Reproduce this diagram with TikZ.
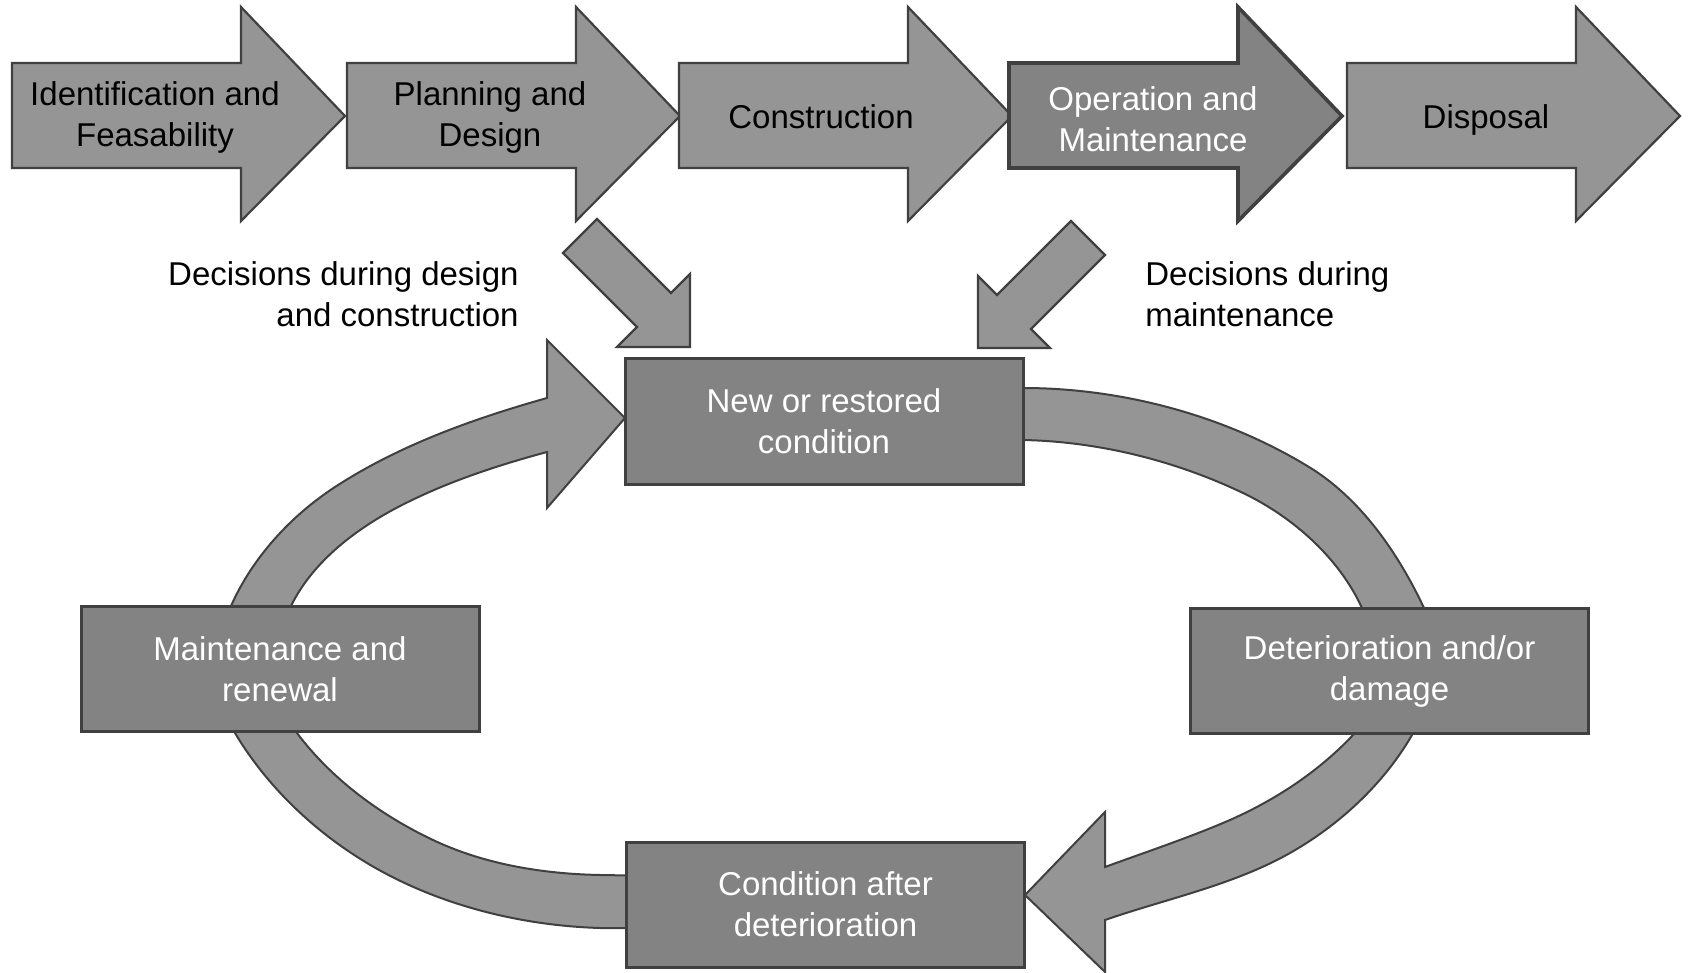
\documentclass[tikz,border=0pt]{standalone}
\usepackage{fontspec}
\setmainfont{Liberation Sans}
\definecolor{lightfill}{HTML}{959595}
\definecolor{darkfill}{HTML}{838383}
\definecolor{edgegray}{HTML}{404040}
% block arrow of one life-cycle stage, #1 = left edge, #2 = style
\newcommand{\stagearrow}[2]{%
  \draw[#2] (#1,63) -- ({#1+229},63) -- ({#1+229},7) -- ({#1+333},116)
    -- ({#1+229},221) -- ({#1+229},168) -- (#1,168) -- cycle;}
\begin{document}
\begin{tikzpicture}[x=0.5pt,y=-0.5pt,
  blockarrow/.style={fill=lightfill, draw=edgegray, line width=1.1pt},
  activearrow/.style={fill=darkfill, draw=edgegray, line width=1.8pt},
  ringband/.style={fill=lightfill, draw=edgegray, line width=1pt},
  stagetext/.style={font=\fontsize{16.5}{20.5}\selectfont, align=center, inner sep=0pt},
  note/.style={font=\fontsize{16.5}{20.5}\selectfont, inner sep=0pt},
  statebox/.style={rectangle, fill=darkfill, draw=edgegray, line width=1.5pt,
    minimum width=199pt, minimum height=62.5pt, inner sep=0pt,
    text=white, font=\fontsize{16.5}{20.5}\selectfont, align=center}]

\useasboundingbox (0,0) rectangle (1693,973);

% life-cycle stages
\stagearrow{12}{blockarrow}
\node[stagetext] (s1) at (155,117) {Identification and\\Feasability};
\stagearrow{347}{blockarrow}
\node[stagetext] (s2) at (490,117) {Planning and\\Design};
\stagearrow{679}{blockarrow}
\node[stagetext] (s3) at (821,117) {Construction};
\stagearrow{1009}{activearrow}
\node[stagetext, text=white] (s4) at (1153,119) {Operation and\\Maintenance};
\stagearrow{1347}{blockarrow}
\node[stagetext] (s5) at (1486,120) {Disposal};

% decision arrows
\draw[blockarrow] (597,219) -- (671,293) -- (690,274) -- (690,347) -- (617,347)
  -- (637,327) -- (563,253) -- cycle;
\draw[blockarrow] (1071,221) -- (1105,255) -- (1031,329) -- (1050,348) -- (978,348)
  -- (978,276) -- (997,295) -- cycle;

\node[note, anchor=east, align=right] (lbl1) at (519,294) {Decisions during design\\and construction};
\node[note, anchor=west, align=left] (lbl2) at (1145,294) {Decisions during\\maintenance};

% condition cycle bands (their ends run under the state boxes)
\draw[ringband] (990,388) -- (1023,388)
  .. controls (1122,388) and (1224.6,415.4) .. (1309,467)
  .. controls (1360.8,498.7) and (1398.1,553.1) .. (1424,608)
  -- (1432,650) -- (1372,650) -- (1362,608)
  .. controls (1339,557.8) and (1292.8,516.8) .. (1243,493)
  .. controls (1175,460.5) and (1098.4,441.5) .. (1023,440)
  -- (990,440) -- cycle;
\draw[ringband] (1425,700) -- (1412,735)
  .. controls (1383.7,784) and (1339.2,825.1) .. (1290,853)
  .. controls (1232.9,885.3) and (1167,898.5) .. (1105,920)
  -- (1105,972) -- (1025,895) -- (1105,812) -- (1105,867)
  .. controls (1144.4,852.6) and (1184.3,839.3) .. (1223,823)
  .. controls (1271.2,802.7) and (1317.2,773.2) .. (1353,735)
  -- (1375,700) -- cycle;
\draw[ringband] (660,928) -- (600,928)
  .. controls (519.4,925.6) and (436.1,904.5) .. (367,863)
  .. controls (314,831.2) and (266.6,786.1) .. (235,733)
  -- (228,700) -- (290,700) -- (297,733)
  .. controls (331.6,779.2) and (380.8,815.3) .. (433,840)
  .. controls (484.4,864.4) and (543.1,873.9) .. (600,875)
  -- (660,876) -- cycle;
\draw[ringband] (230,650) -- (231,606)
  .. controls (252.3,557.8) and (290.8,515.8) .. (335,487)
  .. controls (399.2,445.2) and (473.3,418.8) .. (547,398)
  -- (547,340) -- (625,418) -- (547,508) -- (547,452)
  .. controls (497.3,465.4) and (447.9,481.6) .. (402,505)
  .. controls (357.4,527.7) and (313,561) .. (291,606)
  -- (290,650) -- cycle;

% condition states
\node[statebox] (new) at (824,421.5) {New or restored\\condition};
\node[statebox] (maint) at (280,669) {Maintenance and\\renewal};
\node[statebox] (det) at (1389.5,671) {Deterioration and/or\\damage};
\node[statebox] (cond) at (825.5,904.5) {Condition after\\deterioration};
\end{tikzpicture}
\end{document}
